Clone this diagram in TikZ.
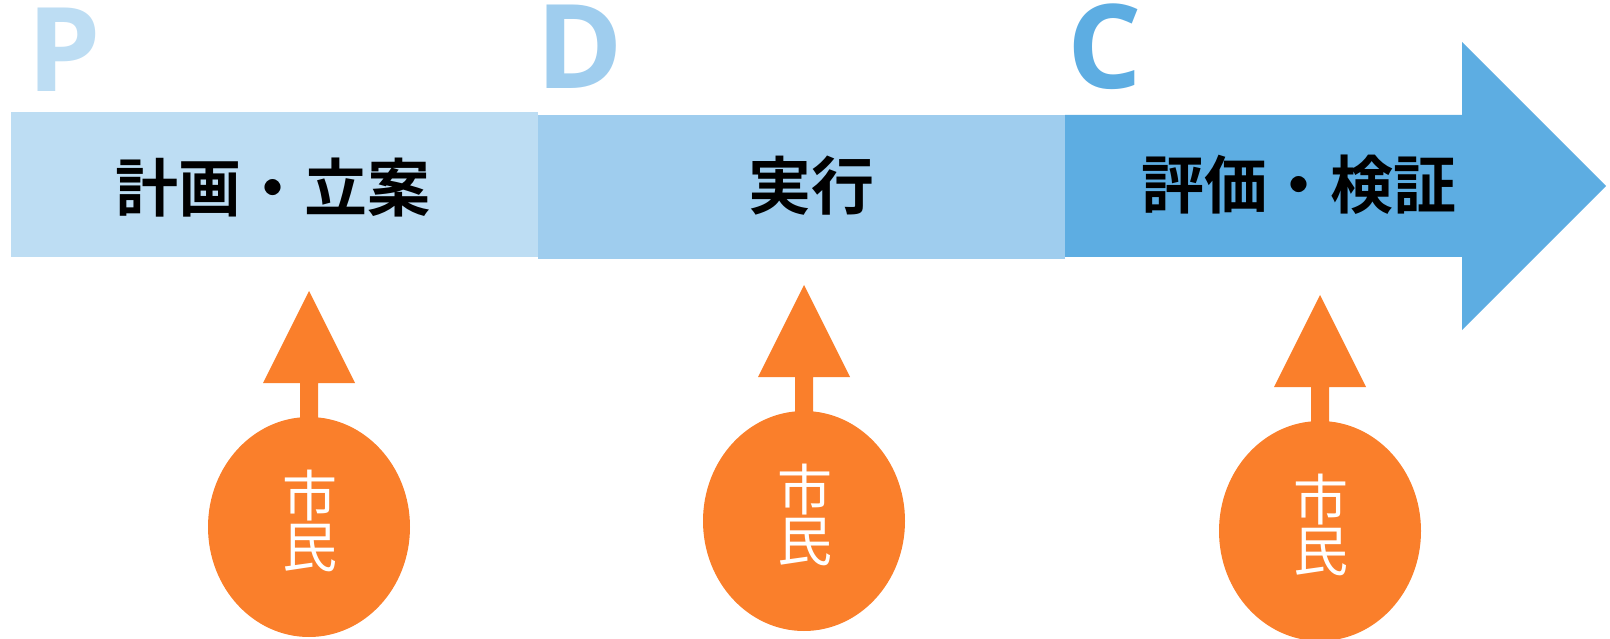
\documentclass[tikz,border=0pt]{standalone}
\usepackage{fontspec}
\setmainfont{Open Sans}
\newfontfamily\cjk{Noto Sans CJK JP}[BoldFont={Noto Sans CJK JP Bold}]
\usetikzlibrary{shapes.geometric,calc}
\definecolor{pcol}{HTML}{BDDDF3}
\definecolor{dcol}{HTML}{9FCDEE}
\definecolor{ccol}{HTML}{5DADE2}
\definecolor{orng}{HTML}{FA7F2B}
\tikzset{
  phase/.style={rectangle, inner sep=0pt, anchor=north west},
  letter/.style={inner sep=0pt, anchor=base west, font=\bfseries\fontsize{117}{117}\selectfont},
  jtext/.style={inner sep=0pt, font=\cjk\bfseries\fontsize{63}{63}\selectfont},
  citizen/.style={ellipse, fill=orng, inner sep=0pt, minimum width=202pt, minimum height=220pt},
  ctext/.style={inner sep=0pt, align=center, text=white, font=\cjk\fontsize{55}{51}\selectfont},
}
\begin{document}
\begin{tikzpicture}[x=1pt,y=-1pt]
\useasboundingbox (0,0) rectangle (1610,639);
% phase boxes
\node[phase, fill=pcol, minimum width=527pt, minimum height=145pt] (P) at (11,112) {};
\node[phase, fill=dcol, minimum width=527pt, minimum height=144pt] (D) at (538,115) {};
\fill[ccol] (1065,115) -- (1462,115) -- (1462,42) -- (1606,186) -- (1462,330) -- (1462,257) -- (1065,257) -- cycle;
% letters
\node[letter, text=pcol] (lP) at (27,92) {P};
\node[letter, text=dcol] (lD) at (536,89) {D};
\node[letter, text=ccol] (lC) at (1067,89) {C};
% box texts
\node[jtext] (tP) at (273,188) {計画・立案};
\node[jtext] (tD) at (811,186) {実行};
\node[jtext] (tC) at (1299,185) {評価・検証};
% citizens
\foreach \n/\cx/\cy in {1/309/527, 2/804/521, 3/1320/531}{
  \node[citizen] (e\n) at (\cx,\cy) {};
  \fill[orng] ($(e\n.center)+(-9,-100)$) -- ($(e\n.center)+(-9,-144)$) -- ($(e\n.center)+(-46,-144)$)
     -- ($(e\n.center)+(0,-236)$) -- ($(e\n.center)+(46,-144)$) -- ($(e\n.center)+(9,-144)$)
     -- ($(e\n.center)+(9,-100)$) -- cycle;
  \node[ctext] (t\n) at ($(e\n.center)+(1,-6)$) {市\\民};
}
\end{tikzpicture}
\end{document}
